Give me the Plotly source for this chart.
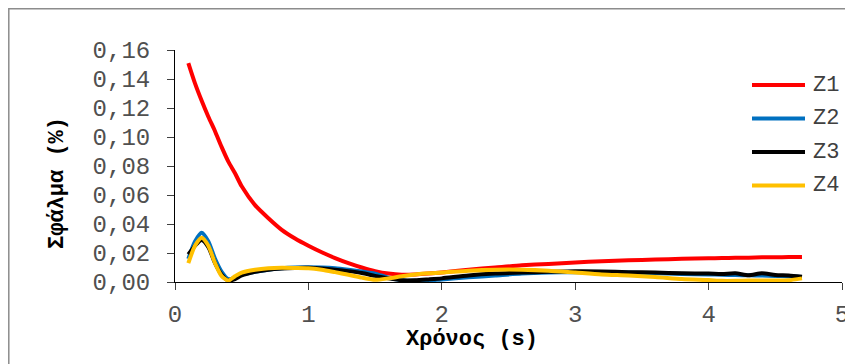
import plotly.graph_objects as go

# ---- data ----
time_s = [0.1, 0.15, 0.2, 0.25, 0.3, 0.35, 0.4, 0.45, 0.5, 0.6, 0.7, 0.8, 0.9, 1.0,
          1.1, 1.2, 1.3, 1.4, 1.5, 1.6, 1.7, 1.8, 1.9, 2.0, 2.2, 2.4, 2.6, 2.8, 3.0,
          3.2, 3.4, 3.6, 3.8, 4.0, 4.1, 4.2, 4.3, 4.4, 4.5, 4.6, 4.7]

z1 = [0.151, 0.137, 0.125, 0.114, 0.104, 0.093, 0.083, 0.075, 0.066, 0.053, 0.044,
      0.036, 0.030, 0.025, 0.0205, 0.0165, 0.013, 0.010, 0.0075, 0.0058, 0.005, 0.0052,
      0.0058, 0.0066, 0.0085, 0.010, 0.0115, 0.0125, 0.0135, 0.0143, 0.015, 0.0155,
      0.016, 0.0163, 0.0165, 0.0167, 0.0168, 0.0170, 0.0171, 0.0172, 0.0173]

z2 = [0.016, 0.028, 0.034, 0.028, 0.016, 0.007, 0.002, 0.003, 0.005, 0.007, 0.0085,
      0.0095, 0.010, 0.0102, 0.010, 0.0095, 0.0085, 0.0073, 0.0058, 0.003, 0.0012,
      0.0008, 0.001, 0.0018, 0.0032, 0.0045, 0.0058, 0.0065, 0.0068, 0.0068, 0.0065,
      0.006, 0.0056, 0.0052, 0.005, 0.0048, 0.0046, 0.0045, 0.0042, 0.004, 0.0035]

z3 = [0.019, 0.025, 0.029, 0.024, 0.013, 0.005, 0.001, 0.002, 0.0045, 0.007, 0.0085,
      0.0093, 0.0097, 0.0098, 0.0093, 0.0085, 0.0075, 0.0062, 0.0042, 0.0025, 0.0012,
      0.0012, 0.0018, 0.0025, 0.0045, 0.0058, 0.0065, 0.007, 0.0074, 0.0073, 0.0068,
      0.0065, 0.006, 0.0058, 0.0055, 0.006, 0.0047, 0.006, 0.0048, 0.0045, 0.0037]

z4 = [0.013, 0.025, 0.0305, 0.025, 0.013, 0.004, 0.001, 0.004, 0.0065, 0.0085, 0.0095,
      0.0098, 0.0097, 0.0095, 0.0085, 0.0068, 0.005, 0.003, 0.0015, 0.0025, 0.004,
      0.0052, 0.006, 0.0065, 0.0078, 0.0085, 0.0085, 0.0078, 0.0065, 0.0052, 0.0045,
      0.0035, 0.002, 0.0013, 0.0008, 0.0008, 0.001, 0.001, 0.001, 0.0012, 0.0025]

series_names = ["Z1", "Z2", "Z3", "Z4"]
series_values = [z1, z2, z3, z4]
series_colors = ["#ff0000", "#0070c0", "#000000", "#ffc000"]

x_title = "Χρόνος (s)"
y_title = "Σφάλμα (%)"

# ---- layout geometry (page pixels; page body has an 8px margin) ----
OFF = 8
PAGE_W, PAGE_H = 853, 364
PX0, PX1, PY0, PY1 = 175, 842, 50, 282   # plot area in page pixels
W, H = PAGE_W - OFF, PAGE_H - OFF
L, T = PX0 - OFF, PY0 - OFF
R, B = PAGE_W - PX1, PAGE_H - PY1
PW, PH = PX1 - PX0, PY1 - PY0


def px_x(px):
    return (px - PX0) / PW


def px_y(py):
    return (PY1 - py) / PH


fig = go.Figure()
for name, vals, col in zip(series_names, series_values, series_colors):
    fig.add_trace(go.Scatter(x=time_s, y=vals, name=name, mode="lines",
                             line=dict(color=col, width=4, shape="spline", smoothing=0.7),
                             showlegend=False))

mono = "Liberation Mono, Courier New, monospace"
tick_font = dict(family=mono, size=24, color="#505050")
title_font = dict(family=mono, size=22, color="#000000")

fig.update_layout(
    width=W, height=H,
    margin=dict(l=L, r=R, t=T, b=B),
    paper_bgcolor="white", plot_bgcolor="white",
    separators=", ",
    xaxis=dict(range=[0, 5], tickvals=[0, 1, 2, 3, 4, 5], showgrid=False, zeroline=False,
               showline=True, linecolor="#000000", linewidth=1, automargin=False,
               ticks="outside", ticklen=7, tickcolor="#404040",
               tickfont=tick_font, ticklabelstandoff=3),
    yaxis=dict(range=[0, 0.16], dtick=0.02, tickformat=".2f", showgrid=False, zeroline=False,
               showline=True, linecolor="#000000", linewidth=1, automargin=False,
               ticks="outside", ticklen=7, tickcolor="#404040",
               tickfont=tick_font, ticklabelstandoff=12),
)

# axis titles placed at measured page positions
fig.add_annotation(xref="paper", yref="paper", x=px_x(472), y=px_y(339),
                   text="<b>" + x_title + "</b>", showarrow=False,
                   xanchor="center", yanchor="middle", font=title_font)
fig.add_annotation(xref="paper", yref="paper", x=px_x(57), y=px_y(183),
                   text="<b>" + y_title + "</b>", showarrow=False, textangle=-90,
                   xanchor="center", yanchor="middle", font=title_font)

# outer chart border
fig.add_shape(type="rect", xref="paper", yref="paper",
              x0=px_x(8.8), x1=px_x(848), y0=px_y(420), y1=px_y(8.8),
              line=dict(color="#8c8c8c", width=1.5), fillcolor="rgba(0,0,0,0)", layer="below")

# manual legend
legend_y = [85, 118.5, 152, 185.5]
for name, col, ly in zip(series_names, series_colors, legend_y):
    fig.add_shape(type="line", xref="paper", yref="paper",
                  x0=px_x(752), x1=px_x(805), y0=px_y(ly), y1=px_y(ly),
                  line=dict(color=col, width=4))
    fig.add_annotation(xref="paper", yref="paper", x=px_x(811), y=px_y(ly),
                       text=name, showarrow=False, xanchor="left", yanchor="middle",
                       font=dict(family=mono, size=22, color="#404040"))

fig.write_html("out.html")
